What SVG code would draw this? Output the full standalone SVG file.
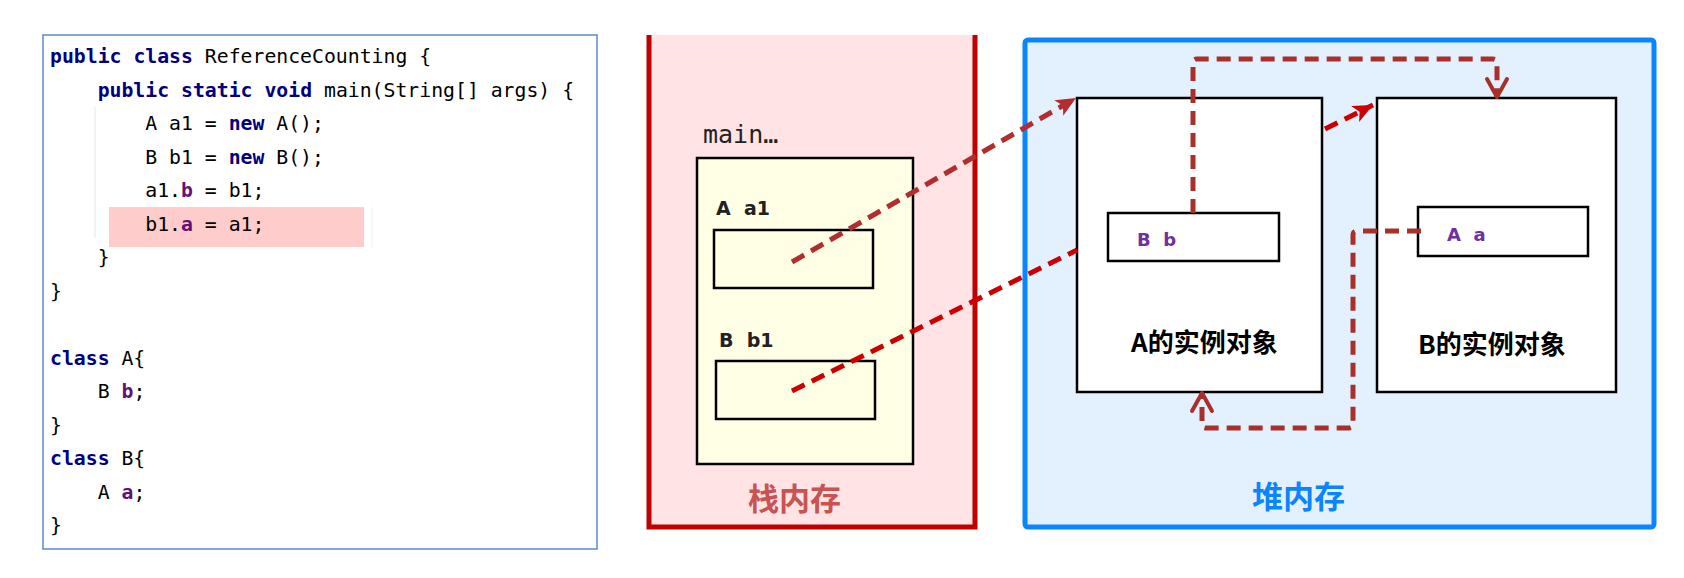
<svg xmlns="http://www.w3.org/2000/svg" width="1684" height="578" viewBox="0 0 1684 578">
<style>
.code{font-family:"DejaVu Sans Mono","Liberation Mono",monospace;font-size:19.8px;fill:#000;white-space:pre}
.kw{font-weight:bold;fill:#000080}
.fd{font-weight:bold;fill:#660E7A}
.lbl{font-family:"DejaVu Sans",sans-serif;font-weight:bold;font-size:19px;fill:#222;white-space:pre}
.plbl{font-family:"DejaVu Sans",sans-serif;font-weight:bold;font-size:18px;fill:#7030A0;white-space:pre}
.obj{font-family:"Noto Sans CJK SC","Noto Sans",sans-serif;font-weight:bold;font-size:26px;fill:#000}
.title{font-family:"Noto Sans CJK SC","Noto Sans",sans-serif;font-weight:bold;font-size:31px}
.box{stroke:#000;stroke-width:2.5}
.dash{fill:none;stroke-width:5;stroke-dasharray:14 8}
</style>
<defs>
<marker id="fillArrow" markerUnits="userSpaceOnUse" markerWidth="24" markerHeight="24" viewBox="0 0 24 24" refX="20" refY="12" orient="auto">
<path d="M0,3 L20,12 L0,21 L5,12 Z" fill="#B22E2E"/>
</marker>
<marker id="fillArrowRed" markerUnits="userSpaceOnUse" markerWidth="24" markerHeight="24" viewBox="0 0 24 24" refX="20" refY="12" orient="auto">
<path d="M0,3 L20,12 L0,21 L5,12 Z" fill="#CC0000"/>
</marker>
<marker id="openArrow" markerUnits="userSpaceOnUse" markerWidth="26" markerHeight="28" viewBox="0 0 26 28" refX="21" refY="14" orient="auto">
<path d="M3,4 L21,14 L3,24" fill="none" stroke="#A8302A" stroke-width="4" stroke-linecap="round" stroke-linejoin="round" stroke-dasharray="none"/>
</marker>
</defs>
<rect x="0" y="0" width="1684" height="578" fill="#fff"/>

<g id="code-panel">
<rect x="43" y="35" width="554" height="514" fill="#fff" stroke="#5B8BC9" stroke-width="1.5"/>
<rect x="109" y="207" width="255" height="40" fill="#FFCCCC"/>
<line x1="95" y1="107" x2="95" y2="238" stroke="#e6e6e6" stroke-width="1"/>
<line x1="372" y1="207" x2="372" y2="247" stroke="#f0f0f0" stroke-width="1"/>
<text class="code" x="50" y="63"><tspan class="kw">public</tspan> <tspan class="kw">class</tspan> ReferenceCounting {</text>
<text class="code" x="50" y="97">    <tspan class="kw">public</tspan> <tspan class="kw">static</tspan> <tspan class="kw">void</tspan> main(String[] args) {</text>
<text class="code" x="50" y="130">        A a1 = <tspan class="kw">new</tspan> A();</text>
<text class="code" x="50" y="164">        B b1 = <tspan class="kw">new</tspan> B();</text>
<text class="code" x="50" y="197">        a1.<tspan class="fd">b</tspan> = b1;</text>
<text class="code" x="50" y="231">        b1.<tspan class="fd">a</tspan> = a1;</text>
<text class="code" x="50" y="264">    }</text>
<text class="code" x="50" y="298">}</text>
<text class="code" x="50" y="365"><tspan class="kw">class</tspan> A{</text>
<text class="code" x="50" y="398">    B <tspan class="fd">b</tspan>;</text>
<text class="code" x="50" y="432">}</text>
<text class="code" x="50" y="465"><tspan class="kw">class</tspan> B{</text>
<text class="code" x="50" y="499">    A <tspan class="fd">a</tspan>;</text>
<text class="code" x="50" y="532">}</text>
</g>

<g id="stack">
<rect x="649" y="35" width="326" height="492" fill="#FFE3E5"/>
<path d="M649,35 L649,527 L975,527 L975,35" fill="none" stroke="#C00000" stroke-width="5"/>
<text class="title" x="748" y="510" fill="#C75450">栈内存</text>
</g>

<g id="main-frame">
<text x="703" y="143" font-family="DejaVu Sans Mono,monospace" font-size="25" fill="#222">main…</text>
<rect class="box" x="697" y="158" width="216" height="306" fill="#FFFFE6" stroke-width="2"/>
</g>

<g id="var-a1">
<text class="lbl" x="716" y="215">A  a1</text>
<rect class="box" x="714" y="230" width="159" height="58" fill="#FFFFE6" stroke-width="2"/>
</g>

<g id="var-b1">
<text class="lbl" x="719" y="347">B  b1</text>
<rect class="box" x="716" y="361" width="159" height="58" fill="#FFFFE6" stroke-width="2"/>
</g>

<g id="heap">
<rect x="1025" y="40" width="629" height="487" rx="3" fill="#E3F1FF" stroke="#0A84FF" stroke-width="5"/>
<text class="title" x="1252" y="508" fill="#0A84FF">堆内存</text>
</g>

<g id="obj-a">
<rect class="box" x="1077" y="98" width="245" height="294" fill="#fff"/>
<text class="obj" x="1131" y="352">A的实例对象</text>
</g>

<g id="field-b">
<rect class="box" x="1108" y="213" width="171" height="48" fill="#fff" stroke-width="2"/>
<text class="plbl" x="1137" y="246">B  b</text>
</g>

<g id="obj-b">
<rect class="box" x="1377" y="98" width="239" height="294" fill="#fff"/>
<text class="obj" x="1418" y="354">B的实例对象</text>
</g>

<g id="field-a">
<rect class="box" x="1418" y="207" width="170" height="49" fill="#fff" stroke-width="2"/>
<text class="plbl" x="1447" y="241">A  a</text>
</g>

<g id="connectors">
<line class="dash" x1="792" y1="262" x2="1076" y2="98" stroke="#B22E2E" marker-end="url(#fillArrow)"/>
<line class="dash" x1="792" y1="391" x2="1077" y2="250" stroke="#CC0000"/>
<line class="dash" x1="1325" y1="129" x2="1373" y2="105" stroke="#CC0000" stroke-dasharray="12 7" marker-end="url(#fillArrowRed)"/>
<path class="dash" d="M1193,213 L1193,63 Q1193,59 1197,59 L1493,59 Q1497,59 1497,63 L1497,97" stroke="#A8302A" stroke-width="4.5" marker-end="url(#openArrow)"/>
<path class="dash" d="M1421,231 L1357,231 Q1353,231 1353,235 L1353,424 Q1353,428 1349,428 L1206,428 Q1202,428 1202,424 L1202,393" stroke="#A8302A" stroke-width="4.5" marker-end="url(#openArrow)"/>
</g>
</svg>
